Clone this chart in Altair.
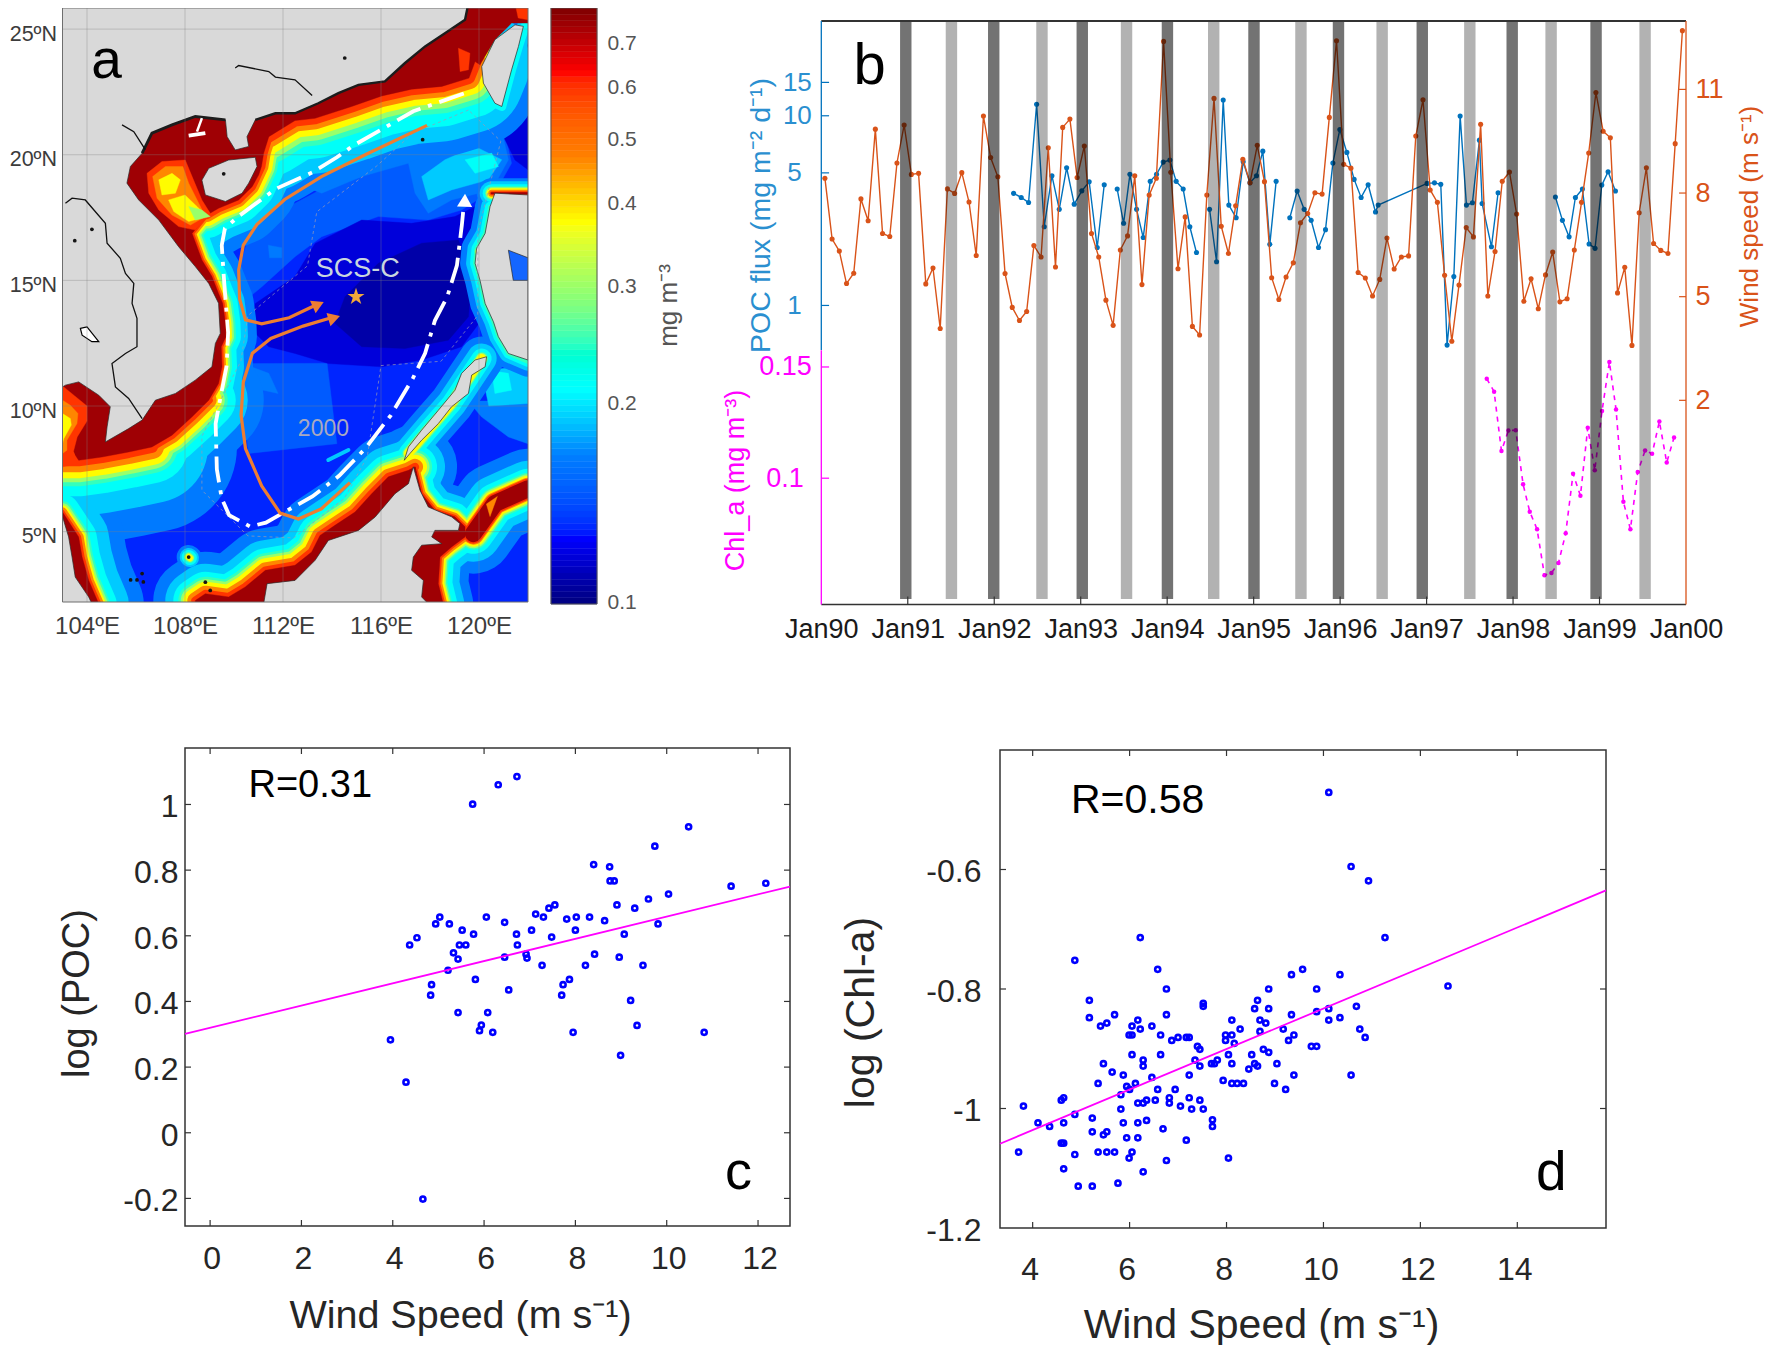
import altair as alt
import pandas as pd
import numpy as np

W, H = 1756, 1337
FONT = "Liberation Sans"

# ---------- panel a: regions as (lon, lat)
LEVEL = dict(a=.108, b=.118, c=.13, d=.148, e=.165, f=.19, g=.215, h=.25, i=.30, j=.38, k=.47, l=.60, m=.75)

sea_under = [
 ("d", [(112.49,18.07),(114.53,19.13),(116.57,20.2),(117.93,21.12),(120.11,21.79),(120.93,21.39),(121.33,19.66),(120.79,18.73),(119.29,17.8),(117.93,17.4),(115.89,17.54),(113.58,16.74),(112.49,15.94),(111.14,14.75),(110.33,14.09),(110.19,15.41),(110.6,16.74),(111.42,17.8)]),
 ("d", [(110.46,11.69),(113.8,11.7),(114.2,8.5),(110.6,8.11),(110.33,10.1)]),
 ("e", [(112.49,18.87),(114.26,19.66),(116.3,20.46),(117.93,21.39),(119.97,22.05),(120.79,21.52),(121.2,19.8),(120.52,18.6),(118.88,18.2),(117.93,17.67),(117.39,18.47),(117.12,19.66),(115.21,19.13),(113.58,18.47)]),
 ("f", [(117.66,19.13),(118.61,19.8),(119.84,20.33),(120.93,19.8),(120.38,19.0),(118.88,18.6),(117.93,18.2)]),
 ("g", [(119.43,19.8),(120.52,20.06),(120.79,19.53),(119.84,19.26)]),
 ("b", [(113.31,16.47),(115.21,17.4),(117.25,17.27),(119.02,17.54),(120.11,18.07),(120.25,17.0),(119.70,15.55),(119.84,14.22),(120.1,13.42),(119.29,12.36),(117.66,11.83),(116.03,11.56),(113.85,11.69),(112.49,12.09),(111.42,12.36),(110.6,13.15),(110.87,14.08),(112.49,15.15)]),
 ("a", [(115.89,15.68),(117.66,16.48),(119.16,16.61),(119.57,15.55),(119.63,14.28),(119.57,13.55),(118.75,12.62),(116.98,12.29),(115.21,12.36),(114.12,13.29),(114.53,14.35)]),
 ("b", [(121.2,21.79),(122,23.78),(122,19.4),(121.47,19.79),(120.93,20.86)]),
 ("e", [(110.6,11.6),(111.42,11.3),(111.8,10.5),(111.1,10.65),(110.75,11.0)]),
 ("e", [(111.4,16.4),(111.95,16.3),(111.95,15.9),(111.45,15.9)]),
 ("e", [(119.56,10.2),(122,10.2),(122,8.5),(121.2,8.77),(120.1,9.57)]),
 ("f", [(120.1,11.4),(122,11.6),(122,10.1),(120.4,10.0)]),
 ("g", [(120.52,11.4),(121.2,11.3),(121.33,10.63),(120.65,10.5)]),
]

stroke_levels = "efghijklm"
stroke_segments = [
 ("china",   [(119.84,23.65),(119.59,23.05),(118.48,22.72),(117.25,22.61),(116.03,22.34),(114.80,21.92),(113.31,21.45),(112.49,21.36),(111.42,20.72)], (140,110,80,54,44,34,22,12,0)),
 ("hainan",  [(111.42,20.72),(111.21,20.06),(111.12,19.53),(110.74,18.73),(110.19,18.2),(109.37,17.87),(108.90,17.6)], (90,64,46,32,27,22,14,8,0)),
 ("vietnam", [(108.90,17.6),(108.29,16.87),(108.69,15.81),(109.10,15.15),(109.37,14.48),(109.54,14.08),(109.65,13.29),(109.67,12.76),(109.48,12.36),(109.51,11.56),(109.37,10.9),(108.97,10.23)], (62,44,30,20,16,12,8,4,0)),
 ("indo2",   [(108.97,10.23),(108.29,9.57),(107.47,8.84),(106.65,8.37)], (110,78,54,38,32,26,16,8,0)),
 ("indo1",   [(106.65,8.37),(105.70,8.17),(104.61,7.97),(103.66,7.84),(102.98,7.84)], (170,112,72,52,44,36,24,12,0)),
 ("malay",   [(102.98,5.78),(103.66,4.79),(103.8,3.99),(104.07,3.06),(104.48,2.13)], (90,60,36,22,18,14,10,5,0)),
 ("borneoN", [(108.42,2.26),(108.83,2.53),(109.78,2.4),(110.46,2.8),(111.28,3.46),(112.49,3.66),(113.17,4.19),(113.51,4.85),(114.12,5.25),(114.94,5.78),(115.62,6.51),(116.3,7.18),(117.12,7.44),(117.39,7.58)], (84,60,44,34,29,24,16,8,0)),
 ("borneoE", [(117.39,7.58),(117.66,6.51),(118.2,5.85),(119.02,5.59),(119.43,5.19),(119.43,4.79),(118.88,4.39),(118.41,3.99),(118.34,2.93),(118.54,2.13)], (60,42,28,18,15,12,8,4,0)),
 ("sulu",    [(119.77,4.92),(120.65,6.12),(122,6.71)], (80,56,40,32,29,26,22,20,17)),
 ("palawan", [(120.11,11.89),(119.43,10.9),(118.88,10.1),(117.93,9.04),(117.12,8.11)], (44,30,20,13,11,9,0,0,0)),
 ("luzon",   [(120.45,17.93),(120.25,16.87),(119.9,16.27),(119.84,15.68),(120.04,15.01),(120.25,14.08),(120.59,13.35),(120.79,12.76),(121.2,12.09),(122,11.76)], (30,18,10,4,0,0,0,0,0)),
 ("luzonN",  [(120.52,18.47),(122,18.47)], (30,24,18,14,12,10,7,4,2)),
 ("linga",   [(120.04,16.14),(120.31,16.21)], (0,0,14,12,10,8,6,5,0)),
 ("taiwan",  [(120.18,22.85),(120.65,22.05),(120.93,21.92),(121.33,23.38),(121.61,24.31),(121.88,25.11)], (26,16,9,0,0,0,0,0,0)),
 ("natuna",  [(108.15,3.99),(108.2,3.95)], (24,18,14,10,8,6,0,0,0)),
 ("reef",    [(113.85,7.85),(114.67,8.25)], (0,4,0,0,0,0,0,0,0)),
]

sea_over = [
 ("m", [(119.57,26.04),(122.0,26.04),(122.0,25.24),(121.33,25.24),(120.65,24.58),(120.04,23.58),(119.84,23.71),(119.59,23.05),(118.48,22.72),(117.25,22.61),(116.03,22.34),(114.80,21.92),(113.31,21.45),(112.49,21.36),(111.42,20.72),(111.21,20.06),(111.12,19.53),(111.01,19.2),(110.74,18.73),(110.19,18.2),(109.37,17.87),(108.90,17.6),(108.29,16.87),(108.69,15.81),(109.10,15.15),(109.37,14.48),(109.54,14.08),(109.65,13.29),(109.67,12.76),(109.48,12.36),(109.51,11.56),(109.37,10.9),(108.97,10.23),(108.29,9.57),(107.47,8.84),(106.65,8.37),(105.70,8.17),(104.61,7.97),(103.66,7.84),(103.39,8.24),(103.52,8.77),(103.93,9.44),(103.93,9.97),(103.52,10.23),(103.05,10.50),(103,12),(103,26.04)]),
 ("l", [(106.45,19.26),(107.06,19.73),(108.01,19.79),(108.35,18.99),(108.69,18.2),(109.03,17.67),(108.42,17.0),(107.74,17.14),(106.93,17.8),(106.52,18.47)]),
 ("k", [(106.68,19.13),(107.2,19.53),(107.91,19.53),(108.15,18.87),(108.56,18.07),(108.83,17.54),(108.22,17.2),(107.47,17.6),(106.86,18.27)]),
 ("j", [(106.93,19.0),(107.47,19.26),(107.81,19.0),(107.61,18.47),(107.06,18.4)]),
 ("j", [(107.33,18.2),(108.0,18.4),(108.49,17.94),(108.9,17.54),(108.15,17.34),(107.54,17.74)]),
 ("i", [(108.15,17.94),(108.69,17.8),(109.03,17.54),(108.42,17.4)]),
 ("l", [(103,10.8),(103.5,10.4),(104.0,10.0),(104.0,9.4),(103.6,8.77),(103.45,8.2),(103.6,7.7),(103,7.58)]),
 ("k", [(103,10.23),(103.32,10.03),(103.63,9.7),(103.59,9.3),(103.18,8.64),(103.18,8.24),(103,8.11)]),
 ("j", [(103,9.7),(103.32,9.5),(103.36,9.24),(103.05,8.7),(103,8.5)]),
 ("m", [(103,5.78),(103.66,4.79),(103.8,3.99),(104.07,3.06),(104.48,2.13),(103,2.13)]),
 ("m", [(108.42,2.26),(108.83,2.53),(109.78,2.4),(110.46,2.8),(111.28,3.46),(112.49,3.66),(113.17,4.19),(113.51,4.85),(114.12,5.25),(114.94,5.78),(115.62,6.51),(116.3,7.18),(117.12,7.44),(117.39,7.58),(118,5),(112,2.13),(108.42,2.13)]),
 ("m", [(117.39,7.58),(117.66,6.51),(118.2,5.85),(119.02,5.59),(119.43,5.19),(119.43,4.79),(118.88,4.39),(118.41,3.99),(118.34,2.93),(118.54,2.13),(117.0,2.13),(117.0,6)]),
 ("l", [(121.47,26.04),(122,26.04),(122,25.37),(121.6,25.44)]),
 ("l", [(119.16,24.24),(119.63,24.04),(119.57,23.38),(119.23,23.31)]),
 ("k", [(120.3,6.1),(120.75,6.4),(120.45,5.6)]),
]

land_polys = [
 [(119.57,26.04),(119.43,25.37),(118.61,24.84),(117.80,24.31),(116.98,23.65),(116.16,22.92),(115.08,22.78),(114.26,22.45),(113.44,22.05),(112.49,21.65),(111.69,21.65),(110.87,21.39),(110.53,20.72),(110.60,20.33),(110.05,20.19),(109.72,20.72),(109.65,21.39),(108.42,21.52),(107.47,21.19),(106.65,20.86),(106.25,20.06),(105.77,19.53),(105.63,18.87),(106.11,18.20),(106.93,17.40),(107.74,16.34),(108.42,15.55),(108.97,14.88),(109.37,14.09),(109.44,12.89),(109.24,12.49),(109.10,11.56),(108.42,11.03),(107.61,10.50),(106.79,10.23),(106.25,9.44),(105.70,9.10),(104.75,8.57),(104.82,9.17),(104.95,9.97),(104.48,10.43),(103.66,10.96),(103.12,10.83),(103,10.76),(103,26.04)],
 [(108.69,18.99),(108.97,19.46),(109.78,19.79),(110.87,19.90),(110.94,19.53),(110.60,18.87),(110.33,18.47),(109.65,18.14),(108.83,18.40)],
 [(121.47,25.17),(121.81,25.11),(121.61,24.31),(121.33,23.38),(120.93,21.92),(120.65,22.05),(120.18,22.85),(120.11,23.51),(120.65,24.58)],
 [(120.65,18.47),(122,18.40),(122,11.83),(121.2,12.09),(120.79,12.76),(120.59,13.35),(120.25,14.08),(120.04,15.01),(119.84,15.68),(119.9,16.27),(120.25,16.87),(120.45,17.93)],
 [(119.84,11.83),(120.31,11.96),(120.25,11.56),(119.7,11.23),(119.57,10.50),(118.88,9.97),(118.34,9.30),(117.66,8.64),(117.18,8.11),(116.95,7.84),(117.12,8.37),(117.66,9.04),(118.34,9.83),(119.02,10.63),(119.29,11.3)],
 [(112.49,3.06),(113.31,3.86),(113.85,4.65),(115.08,5.05),(115.76,5.58),(116.57,6.51),(117.12,6.91),(117.32,7.58),(117.59,6.65),(117.93,5.98),(118.88,5.59),(119.22,5.32),(119.16,5.05),(118.2,5.05),(118.07,4.79),(118.48,4.52),(117.66,4.46),(117.32,3.99),(117.25,3.46),(117.73,3.06),(117.66,2.4),(117.93,2.13),(111.21,2.13),(111.35,2.93)],
 [(103,5.6),(103.25,4.79),(103.39,3.99),(103.52,3.19),(104.07,2.4),(104.2,2.13),(103,2.13)],
]
luzon_bay = [(121.2,16.2),(122,15.9),(122,15.0),(121.4,15.0)]
lake_poly = [(103.73,13.09),(104.0,13.15),(104.48,12.56),(104.2,12.56),(103.8,12.82)]
speck_lon = [106.25,105.78,106.04,108.83,109.03,114.52,109.58,104.2,103.5,108.15,106.3,117.7]
speck_lat = [3.33,3.08,3.08,2.99,2.66,23.85,19.24,17.03,16.58,3.99,3.0,20.6]

white_lon = [119.38,117.32,114.88,114.2,113.2,111.7,110.2,109.63,109.5,109.6,109.76,109.7,109.44,109.25,109.3,109.5,109.8,110.66,111.3,113.2,114.3,115.35,116.4,117.3,117.8,118.2,118.7,119.1,119.3,119.4]
white_lat = [22.44,21.73,20.37,19.9,19.3,18.64,17.56,17.07,16.4,14.92,12.93,11.6,10.3,9.3,7.48,6.32,5.66,5.2,5.36,6.4,7.23,8.3,9.63,11.1,12.1,13.4,14.34,15.6,17.2,18.2]
or1_lon = [117.88,115.44,113.57,112.07,110.94,110.38,110.19,110.23,110.47,111.13,112.25,113.3]
or1_lat = [21.17,20.04,19.13,18.22,17.23,16.4,15.41,14.26,13.43,13.27,13.51,14.0]
or2_lon = [114.73,113.57,112.63,111.88,111.13,110.47,110.29,110.38,110.75,111.5,112.82,114.0]
or2_lat = [6.95,5.91,5.5,5.74,6.82,8.3,9.63,10.95,12.1,12.69,13.18,13.52]
border1_lon = [103.12,103.39,103.93,104.75,104.82,105.36,105.57,105.91,105.84,106.04,106.04,105.57,105.02,105.16,105.7,106.25]
border1_lat = [18.07,18.27,18.2,17.27,16.48,15.88,15.28,14.88,14.08,13.49,12.36,12.09,11.69,10.76,10.3,9.5]
tonkin_lon = [105.43,105.91,106.38]; tonkin_lat = [21.19,20.92,20.2]
river_lon = [110.05,110.19,111.42,111.69,112.49,113.19]; river_lat = [23.45,23.55,23.31,23.09,22.98,22.36]
fringe1_lon = [119.57,119.43,118.61,117.80,116.98,116.16,115.08,114.26,113.44,112.49,111.69,110.87]
fringe1_lat = [26.04,25.37,24.84,24.31,23.65,22.92,22.78,22.45,22.05,21.65,21.65,21.39]
fringe2_lon = [109.65,108.42,107.47,106.65,106.25]; fringe2_lat = [21.39,21.52,21.19,20.86,20.06]
streak1_lon = [108.15,108.83]; streak1_lat = [20.76,20.86]
streak2_lon = [108.69,108.49]; streak2_lat = [21.46,20.92]
iso_lon = [119.57,117.32,115.82,113.38,113.0,110.57,110.28,108.69,108.69,110.57,112.44,114.5,115.44,116.0,118.45,119.95,119.95,120.89,119.57]
iso_lat = [21.78,20.87,19.55,17.73,15.58,13.6,11.78,8.8,6.65,4.83,4.75,6.32,7.98,11.61,11.78,13.6,16.9,20.54,21.78]

chl_stops = [0.1,0.1257,0.168,0.211,0.282,0.378,0.476,0.636,0.795]
jet_colors = ["#00007f","#0000ff","#007fff","#00ffff","#7fff7f","#ffff00","#ff7f00","#ff0000","#7f0000"]

# ---------- panel b
wind = [8.43,6.67,6.32,5.38,5.68,7.83,7.20,9.85,6.83,6.74,8.87,9.97,8.54,8.57,5.37,5.83,4.08,8.12,7.99,8.59,7.74,6.19,10.23,9.03,8.47,5.67,4.69,4.31,4.57,6.48,6.15,9.31,5.86,9.90,10.14,8.45,9.36,6.83,6.15,4.90,4.17,6.35,
 6.76,8.50,5.35,7.94,8.43,12.39,8.60,5.81,7.31,4.14,3.89,7.94,10.74,7.04,6.25,7.63,8.98,8.30,9.38,8.33,5.55,4.92,5.57,5.98,7.14,7.41,8.01,7.97,10.19,12.41,8.83,8.72,5.70,5.54,5.02,5.50,6.70,5.80,6.15,6.18,
 9.65,10.70,8.09,7.73,5.62,3.71,5.34,7.00,6.73,9.99,5.02,6.31,8.34,8.61,7.39,4.87,5.52,4.65,5.63,6.29,4.85,4.94,6.35,7.73,9.16,10.91,9.79,9.60,5.11,5.85,3.59,7.43,8.73,6.54,6.34,6.25,9.43,12.7]
wind_t = [1990+(i+0.5)/12 for i in range(len(wind))]

poc_t = [1992.224,1992.312,1992.397,1992.490,1992.578,1992.667,1992.752,1992.837,1992.925,1993.013,1993.098,1993.191,1993.272,
 1993.422,1993.496,1993.569,1993.646,1993.723,1993.804,1993.877,1993.954,1994.031,1994.104,1994.185,1994.262,1994.339,
 1994.490,1994.571,1994.648,1994.713,1994.798,1994.879,1994.956,1995.033,1995.106,1995.187,1995.260,
 1995.418,1995.503,1995.584,1995.665,1995.750,1995.831,1995.916,1995.997,1996.078,1996.162,1996.243,1996.324,1996.409,1996.440,1997.006,1997.091,1997.164,1997.237,1997.315,1997.388,1997.461,1997.530,1997.611,1997.642,1997.750,1997.827,
 1998.490,1998.571,1998.648,1998.721,1998.802,1998.879,1998.948,1999.026,1999.099,1999.184]
poc = [3.90,3.71,3.49,11.5,2.60,4.83,3.21,5.32,3.42,4.02,4.49,2.02,4.33,
 4.11,2.71,4.91,3.21,2.28,4.51,4.91,5.70,5.84,4.51,4.11,2.60,1.90,
 3.21,1.70,12.1,3.38,2.90,5.72,4.43,4.83,6.51,2.10,4.51,
 2.90,4.01,3.21,2.81,2.02,2.51,5.63,8.47,6.41,4.62,3.71,4.33,3.11,3.38,4.40,4.43,4.35,0.618,1.42,9.96,3.38,3.48,7.44,3.45,2.04,3.93,
 3.73,2.81,2.30,3.71,4.11,2.11,2.00,4.31,5.07,4.01]
poc_seg = [0]*13+[1]*13+[2]*11+[3]*26+[4]*10

chl_t = [1997.696,1997.781,1997.866,1997.946,1998.031,1998.116,1998.193,1998.278,1998.363,1998.444,1998.525,1998.609,1998.694,1998.779,1998.864,1998.945,1999.029,1999.114,1999.191,1999.276,1999.357,1999.442,1999.527,1999.608,1999.692,1999.777,1999.862]
chl = [.1437,.1371,.1104,.1190,.1191,.0978,.0885,.0830,.0702,.0708,.0734,.0818,.1016,.0938,.1202,.1029,.1278,.1528,.1285,.0918,.0830,.1023,.1106,.1093,.1230,.1059,.1160]

dark_t = [1990.977,1991.994,1993.018,1994.003,1995.004,1995.981,1996.95,1997.99,1998.96]
light_t = [1991.505,1992.552,1993.53,1994.538,1995.547,1996.486,1997.50,1998.44,1999.527]

# ---------- panel c
c_x = [3.95,4.29,4.66,4.37,4.53,4.94,5.03,4.85,4.83,5.24,5.21,5.33,5.46,5.43,5.43,5.52,5.60,5.77,5.81,5.75,5.90,5.94,6.05,6.08,6.19,6.31,6.45,6.45,6.54,6.71,6.73,6.72,6.92,6.94,7.04,7.13,7.27,7.30,7.42,7.55,7.48,7.70,7.73,7.87,7.81,8.02,8.00,7.95,8.22,8.31,8.42,8.40,8.64,8.75,8.76,8.85,8.91,8.96,8.99,9.07,9.21,9.30,9.35,9.48,9.60,9.74,9.81,10.04,10.48,10.82,11.41,12.17]
c_y = [.283,.154,-.202,.572,.594,.636,.657,.451,.419,.636,.495,.548,.572,.529,.366,.617,.572,.605,.467,1.001,.311,.328,.657,.366,.306,1.060,.641,.535,.435,.605,.572,1.085,.544,.532,.617,.666,.510,.657,.684,.694,.596,.419,.451,.467,.651,.657,.617,.306,.510,.657,.544,.817,.646,.810,.767,.767,.694,.535,.236,.605,.403,.684,.327,.510,.712,.873,.636,.727,.932,.306,.751,.760]
c_fit_x = [-0.55,12.7]; c_fit_y = [0.301,0.75]

# ---------- panel d
d_x = [3.71,3.81,4.11,4.35,4.59,4.64,4.64,4.59,4.64,4.64,4.87,4.87,4.94,4.87,5.17,5.17,5.23,5.23,5.23,5.35,5.35,5.40,5.46,5.46,5.53,5.53,5.53,5.64,5.69,5.69,5.76,5.82,5.82,5.87,5.87,5.94,5.94,5.99,5.99,6.00,6.05,6.05,6.05,6.05,6.12,6.17,6.17,6.17,6.17,6.22,6.22,6.28,6.28,6.28,6.28,6.35,6.35,6.46,6.46,6.53,6.58,6.58,6.64,6.64,6.69,6.76,6.76,6.76,6.82,6.82,6.87,6.94,7.00,7.05,7.17,7.17,7.23,7.23,7.23,7.28,7.35,7.40,7.45,7.45,7.45,7.52,7.52,7.52,7.69,7.71,7.71,7.75,7.81,7.93,7.98,7.98,8.04,8.04,8.11,8.11,8.11,8.11,8.16,8.22,8.28,8.35,8.46,8.52,8.58,8.58,8.64,8.64,8.69,8.69,8.76,8.81,8.87,8.87,8.87,8.99,9.04,9.17,9.22,9.28,9.34,9.34,9.39,9.39,9.57,9.75,9.86,9.86,9.86,10.11,10.11,10.11,10.34,10.34,10.57,10.57,10.68,10.75,10.86,10.93,11.27,12.57]
d_y = [-1.073,-.996,-1.024,-1.030,-.986,-.982,-1.024,-1.058,-1.058,-1.101,-1.010,-1.077,-1.130,-.752,-.819,-.848,-1.016,-1.039,-1.130,-.958,-1.073,-.862,-.925,-1.044,-1.039,-1.073,-.857,-.939,-.843,-1.073,-1.125,-.977,-1.001,-.944,-1.024,-.963,-1.049,-.877,-1.083,-.968,-.862,-.877,-.910,-1.073,-.958,-.852,-.991,-1.024,-1.049,-.867,-.714,-.919,-.929,-.991,-1.106,-.986,-1.020,-.862,-.948,-.986,-.767,-.968,-.877,-.910,-1.034,-.800,-.843,-1.087,-.982,-.991,-.886,-.968,-.881,-.996,-.881,-1.053,-.881,-.944,-.982,-1.001,-.919,-.896,-.901,-.929,-.986,-.824,-.829,-1.001,-.925,-1.019,-1.030,-.925,-.919,-.953,-.877,-.886,-.910,-1.083,-.852,-.877,-.925,-.958,-.891,-.958,-.867,-.958,-.934,-.910,-.833,-.925,-.819,-.929,-.852,-.871,-.901,-.857,-.800,-.833,-.906,-.958,-.925,-.867,-.968,-.886,-.776,-.843,-.877,-.944,-.767,-.896,-.800,-.838,-.896,-.471,-.833,-.852,-.776,-.848,-.595,-.944,-.829,-.867,-.881,-.619,-.714,-.795]
d_fit_x = [3.326,15.83]; d_fit_y = [-1.059,-0.635]

# ---------- helpers
def sc(dom, rng, **kw):
    return alt.Scale(domain=dom, range=rng, nice=False, zero=False, **kw)

class P:
    def __init__(s, xd, xr, yd, yr, xt="linear", yt="linear", clamp=False):
        s.xd, s.xr, s.yd, s.yr, s.xt, s.yt, s.clamp = xd, xr, yd, yr, xt, yt, clamp
    def x(s, f="x", axis=None):
        return alt.X(f, type="quantitative", scale=sc(s.xd, s.xr, type=s.xt, clamp=s.clamp), axis=axis)
    def y(s, f="y", axis=None):
        return alt.Y(f, type="quantitative", scale=sc(s.yd, s.yr, type=s.yt, clamp=s.clamp), axis=axis)

def df(**k):
    return pd.DataFrame(k)

def ax(**k):
    base = dict(grid=False, domain=False, ticks=False, labelFont=FONT, titleFont=FONT, titleFontWeight="normal",
                labelOverlap=False, labelFlush=False, labelBound=False, title=None)
    base.update(k)
    return alt.Axis(**base)

def frame(p, color="#333333", width=1.5):
    return alt.Chart(df(x=[p.xd[0]], x2=[p.xd[1]], y=[p.yd[0]], y2=[p.yd[1]])).mark_rect(
        fill="transparent", stroke=color, strokeWidth=width).encode(
        x=p.x(), x2="x2", y=p.y(), y2="y2")

def hrule(p, ys, x0, x1, color, width=1.2, opacity=1):
    return alt.Chart(df(y=ys, x=[x0]*len(ys), x2=[x1]*len(ys))).mark_rule(color=color, strokeWidth=width, opacity=opacity).encode(
        x=p.x(), x2="x2", y=p.y())

def vrule(p, xs, y0, y1, color, width=1.2, opacity=1):
    return alt.Chart(df(x=xs, y=[y0]*len(xs), y2=[y1]*len(xs))).mark_rule(color=color, strokeWidth=width, opacity=opacity).encode(
        x=p.x(), y=p.y(), y2="y2")

def text(p, s, x, y, size, color="black", align="center", angle=0):
    return alt.Chart(df(x=[x], y=[y], t=[s])).mark_text(
        font=FONT, fontSize=size, color=color, align=align, baseline="middle", angle=angle).encode(
        x=p.x(), y=p.y(), text="t:N")

def line(p, xs, ys, color, width, dash=None, opacity=1):
    kw = dict(color=color, strokeWidth=width, opacity=opacity)
    if dash:
        kw["strokeDash"] = dash
    return alt.Chart(df(x=xs, y=ys, o=list(range(len(xs))))).mark_line(**kw).encode(
        x=p.x(), y=p.y(), order="o:Q")

def boxticks(p, xv, yv, l=6, color="#333333"):
    dy = (p.yd[1]-p.yd[0])*l/abs(p.yr[0]-p.yr[1])
    dx = (p.xd[1]-p.xd[0])*l/abs(p.xr[1]-p.xr[0])
    return [vrule(p, xv, p.yd[0], p.yd[0]+dy, color), vrule(p, xv, p.yd[1], p.yd[1]-dy, color),
            hrule(p, yv, p.xd[0], p.xd[0]+dx, color), hrule(p, yv, p.xd[1], p.xd[1]-dx, color)]

layers = []

# ---------- panel a
LON0, LON1, LAT0, LAT1 = 103, 122, 2.2, 25.84
MAPX, MAPY = [54.5, 520], [594, 0]
MAP = P([LON0, LON1], MAPX, [LAT0, LAT1], MAPY)
chl_scale = alt.Scale(type="log", domain=chl_stops, range=jet_colors)
PROJ = dict(type="identity", scale=1, translate=[0, 0])

def to_plane(pts):
    return [[MAPX[0]+(lo-LON0)*(MAPX[1]-MAPX[0])/(LON1-LON0), (LAT1-la)*(MAPY[0]-MAPY[1])/(LAT1-LAT0)] for lo, la in pts]

def features(items):
    out = []
    for lev, pts in items:
        ring = to_plane(pts)
        ring = ring + [ring[0]]
        out.append({"type": "Feature", "properties": {"chl": LEVEL[lev] if lev else 0.1},
                    "geometry": {"type": "Polygon", "coordinates": [ring]}})
    return alt.InlineData(values={"type": "FeatureCollection", "features": out},
                          format=alt.DataFormat(type="json", property="features"))

def region_layer(items):
    return alt.Chart(features(items)).mark_geoshape(strokeWidth=0.4).encode(
        color=alt.Color("properties.chl:Q", scale=chl_scale, legend=None),
        stroke=alt.Stroke("properties.chl:Q", scale=chl_scale, legend=None)).project(**PROJ)

lon_ticks = [104, 108, 112, 116, 120]
lat_ticks = [5, 10, 15, 20, 25]
layers.append(alt.Chart(df(x=[LON0], x2=[LON1], y=[LAT0], y2=[LAT1], chl=[LEVEL["c"]])).mark_rect().encode(
    x=MAP.x(axis=ax(orient="bottom", offset=-(H-594), values=lon_ticks, labelExpr="datum.value+'ºE'",
                    labelFontSize=24, labelColor="#3c3c3c", labelPadding=12, zindex=1)),
    x2="x2",
    y=MAP.y(axis=ax(orient="left", offset=-54.5, values=lat_ticks, labelExpr="datum.value+'ºN'",
                    labelFontSize=21.5, labelColor="#3c3c3c", labelPadding=6, labelOffset=5, zindex=1)),
    y2="y2",
    color=alt.Color("chl:Q", scale=chl_scale, legend=None)))
layers.append(region_layer(sea_under))

# coastal colour bands, widest and weakest first, each level its own layer so that the order holds
for i, lev in enumerate(stroke_levels):
    rows = []
    gid = 0
    for name, pts, widths in stroke_segments:
        if widths[i] <= 0:
            continue
        gid += 1
        for o, (lo, la) in enumerate(pts):
            rows.append(dict(x=lo, y=la, o=o, g=gid, w=widths[i], chl=LEVEL[lev]))
    layers.append(alt.Chart(pd.DataFrame(rows)).mark_line(strokeCap="round", strokeJoin="round").encode(
        x=MAP.x(), y=MAP.y(), order="o:Q", detail="g:N",
        size=alt.Size("w:Q", scale=None, legend=None),
        color=alt.Color("chl:Q", scale=chl_scale, legend=None)))
layers.append(region_layer(sea_over))

# land
land_feats = features([(None, p) for p in land_polys])
layers.append(alt.Chart(land_feats).mark_geoshape(fill="#d9d9d9", stroke="#2a2a2a", strokeWidth=0.7).project(**PROJ))
layers.append(alt.Chart(features([("d", luzon_bay)])).mark_geoshape(fill="#1466ff", stroke="#2a2a2a", strokeWidth=0.7).project(**PROJ))
layers.append(alt.Chart(features([(None, lake_poly)])).mark_geoshape(fill="white", stroke="black", strokeWidth=1.2).project(**PROJ))
layers.append(line(MAP, fringe1_lon, fringe1_lat, "#1c1c1c", 2.4))
layers.append(line(MAP, fringe2_lon, fringe2_lat, "#1c1c1c", 2.8))
layers.append(line(MAP, streak1_lon, streak1_lat, "white", 4))
layers.append(line(MAP, streak2_lon, streak2_lat, "white", 2.5))
layers.append(alt.Chart(df(x=speck_lon, y=speck_lat)).mark_point(filled=True, color="#151515", opacity=1, size=14).encode(x=MAP.x(), y=MAP.y()))

layers.append(vrule(MAP, lon_ticks, LAT0, LAT1, "#808080", 0.9, 0.4))
layers.append(hrule(MAP, lat_ticks, LON0, LON1, "#808080", 0.9, 0.4))
layers.append(line(MAP, iso_lon, iso_lat, "#9a9ab4", 1.0, dash=[3, 3], opacity=0.7))
for lo, la in [(border1_lon, border1_lat), (tonkin_lon, tonkin_lat), (river_lon, river_lat)]:
    layers.append(line(MAP, lo, la, "#111111", 1.3))
layers.append(line(MAP, white_lon, white_lat, "white", 3.8, dash=[26, 8, 4, 8]))
layers.append(line(MAP, or1_lon, or1_lat, "#ED7D31", 3.2))
layers.append(line(MAP, or2_lon, or2_lat, "#ED7D31", 3.2))
for x_, y_, ang, col, sz in [(113.44, 14.04, 66, "#ED7D31", 190), (114.09, 13.51, 73, "#ED7D31", 190), (119.42, 18.19, 2, "white", 230)]:
    layers.append(alt.Chart(df(x=[x_], y=[y_])).mark_point(shape="triangle-up", filled=True, color=col, opacity=1, size=sz, angle=ang).encode(
        x=MAP.x(), y=MAP.y()))
star = "M0,-1L0.224,-0.309L0.951,-0.309L0.363,0.118L0.588,0.809L0,0.382L-0.588,0.809L-0.363,0.118L-0.951,-0.309L-0.224,-0.309Z"
layers.append(alt.Chart(df(x=[114.98], y=[14.35])).mark_point(shape=star, filled=True, color="#F2A93B", opacity=1, size=320).encode(
    x=MAP.x(), y=MAP.y()))
layers.append(text(MAP, "SCS-C", 115.05, 15.44, 27, "#c9d6de"))
layers.append(text(MAP, "2000", 113.65, 9.1, 23, "#a9a9c0"))
layers.append(text(MAP, "a", 104.8, 23.75, 55))

# masks keep the wide coastal bands inside the map frame
for x0, x1, y0, y1 in [(0, 54.5, 0, 700), (520, 598, 0, 700), (0, 598, 594, 700)]:
    layers.append(alt.Chart(df(k=[1])).mark_rect(color="white").encode(
        x=alt.value(x0), x2=alt.value(x1), y=alt.value(y0), y2=alt.value(y1)))
layers.append(frame(MAP, "#6e6e6e", 1))

# colour bar
cb_edges = list(np.geomspace(0.1, 0.795, 97))
CB = P([0, 1], [543, 589], [0.1, 0.795], [596, 0], yt="log")
cb_df = pd.DataFrame(dict(x=[0]*96, x2=[1]*96, y=cb_edges[:-1], y2=cb_edges[1:],
                          chl=[(a*b)**0.5 for a, b in zip(cb_edges[:-1], cb_edges[1:])]))
layers.append(alt.Chart(cb_df).mark_rect(strokeWidth=0.5).encode(
    x=CB.x(), x2="x2",
    y=CB.y(axis=ax(orient="right", offset=-(W-589), values=[.1, .2, .3, .4, .5, .6, .7], labelExpr="''+datum.value",
                   labelFontSize=21, labelColor="#555555", labelPadding=10, labelOffset=-1.5, zindex=1,
                   title="mg m⁻³", titleFontSize=26, titleColor="#555555", titleX=71, titleY=297, titleAngle=270, titleBaseline="middle")),
    y2="y2",
    color=alt.Color("chl:Q", scale=chl_scale, legend=None),
    stroke=alt.Stroke("chl:Q", scale=chl_scale, legend=None)))
layers.append(frame(CB, "#555555", 1))

# ---------- panel b
BX = [813.3, 1678]
BY = [596.5, 13]
POC_B = P([1990, 2000], BX, [0.0265, 31.6], BY, yt="log")
CHL_B = P([1990, 2000], BX, [0.0631, 0.5295], BY, yt="log")
WND_B = P([1990, 2000], BX, [-3.91, 12.98], BY)
BLUE, ORANGE, MAG = "#0072BD", "#D95319", "#FF00FF"

poc_df = df(x=poc_t, y=poc, seg=poc_seg)
layers.append(alt.Chart(poc_df).mark_line(color=BLUE, strokeWidth=1.4).encode(
    x=POC_B.x(axis=ax(orient="bottom", offset=-(H-596.5), values=list(range(1990, 2001)),
                      labelExpr="'Jan'+substring(toString(datum.value),2,4)", labelFontSize=27, labelColor="#1a1a1a", labelPadding=12)),
    y=POC_B.y(axis=ax(orient="left", offset=-813.3, values=[10, 15], labelExpr="''+datum.value",
                      labelFontSize=26, labelColor="#2a8fd0", labelPadding=10,
                      title="POC flux (mg m⁻² d⁻¹)", titleFontSize=28.5, titleColor="#2a8fd0", titleX=-61, titleY=207, titleBaseline="middle")),
    detail="seg:N"))
layers.append(alt.Chart(poc_df).mark_point(filled=True, color=BLUE, opacity=1, size=26).encode(
    x=POC_B.x(),
    y=POC_B.y(axis=ax(orient="left", offset=-813.3, values=[1, 5], labelExpr="''+datum.value",
                      labelFontSize=26, labelColor="#2a8fd0", labelPadding=20))))
chl_df = df(x=chl_t, y=chl)
layers.append(alt.Chart(chl_df).mark_line(color=MAG, strokeWidth=1.6, strokeDash=[5, 5]).encode(
    x=CHL_B.x(),
    y=CHL_B.y(axis=ax(orient="left", offset=-813.3, values=[0.15], labelExpr="''+datum.value",
                      labelFontSize=27, labelColor=MAG, labelPadding=10,
                      title="Chl_a (mg m⁻³)", titleFontSize=27, titleColor=MAG, titleX=-86, titleY=472, titleBaseline="middle"))))
layers.append(alt.Chart(chl_df).mark_point(filled=True, color=MAG, opacity=1, size=20).encode(
    x=CHL_B.x(),
    y=CHL_B.y(axis=ax(orient="left", offset=-813.3, values=[0.1], labelExpr="''+datum.value",
                      labelFontSize=27, labelColor=MAG, labelPadding=18))))
wind_df = df(x=wind_t, y=wind)
layers.append(alt.Chart(wind_df).mark_line(color=ORANGE, strokeWidth=1.4).encode(
    x=WND_B.x(),
    y=WND_B.y(axis=ax(orient="right", offset=-(W-1678), values=[2, 5, 8, 11], labelFontSize=27, labelColor=ORANGE, labelPadding=9,
                      title="Wind speed (m s⁻¹)", titleFontSize=26, titleColor=ORANGE, titleX=63, titleY=208, titleAngle=270, titleBaseline="middle"))))
layers.append(alt.Chart(wind_df).mark_point(filled=True, color=ORANGE, opacity=1, size=26).encode(x=WND_B.x(), y=WND_B.y()))

for ts, op in [(dark_t, 0.55), (light_t, 0.30)]:
    layers.append(alt.Chart(df(x=[t-0.066 for t in ts], x2=[t+0.066 for t in ts], y=[-3.75]*len(ts), y2=[12.98]*len(ts))).mark_rect(
        color="black", opacity=op).encode(x=WND_B.x(), x2="x2", y=WND_B.y(), y2="y2"))

layers.append(hrule(WND_B, [12.98], 1990, 2000, "#333333", 2))
layers.append(hrule(WND_B, [-3.91], 1990, 2000, "#333333", 1.5))
layers.append(vrule(WND_B, [2000], -3.91, 12.98, ORANGE, 1.3))
layers.append(vrule(POC_B, [1990], 0.5815, 31.6, BLUE, 1.3))
layers.append(vrule(CHL_B, [1990], 0.0631, 0.1594, MAG, 1.3))
layers.append(hrule(POC_B, [1, 5, 10, 15], 1990, 1990.09, BLUE, 1.2))
layers.append(hrule(CHL_B, [0.1, 0.15], 1990, 1990.09, MAG, 1.2))
layers.append(hrule(WND_B, [2, 5, 8, 11], 2000, 1999.92, ORANGE, 1.2))
layers.append(vrule(WND_B, list(range(1991, 2000)), -3.91, -3.68, "#333333", 1.2))
layers.append(text(WND_B, "b", 1990.56, 11.65, 58))

# ---------- panel c
PC = P([-0.55, 12.7], [177, 782], [-0.284, 1.172], [1218, 740])
layers.append(frame(PC))
layers.append(alt.Chart(df(x=c_x, y=c_y)).mark_point(filled=False, color="#0000FF", strokeWidth=2.6, opacity=1, size=26).encode(
    x=PC.x(axis=ax(orient="bottom", offset=-(H-1218), values=list(range(0, 13, 2)), labelFontSize=32, labelColor="#262626", labelPadding=17, labelOffset=1.5,
                   title="Wind Speed (m s⁻¹)", titleFontSize=39.5, titleColor="#262626", titleX=452, titleY=89, titleBaseline="middle")),
    y=PC.y(axis=ax(orient="left", offset=-177, values=[-0.2, 0, 0.2, 0.4, 0.6, 0.8, 1], labelExpr="''+datum.value",
                   labelFontSize=32, labelColor="#262626", labelPadding=7, labelOffset=2.5,
                   title="log (POC)", titleFontSize=38, titleColor="#262626", titleX=-108, titleY=985, titleBaseline="middle"))))
layers.append(line(PC, c_fit_x, c_fit_y, MAG, 1.8))
layers += boxticks(PC, list(range(0, 13, 2)), [-0.2, 0, 0.2, 0.4, 0.6, 0.8, 1])
layers.append(text(PC, "R=0.31", 0.84, 1.055, 38, align="left"))
layers.append(text(PC, "c", 11.57, -0.123, 54))

# ---------- panel d
PD = P([3.326, 15.83], [992, 1598], [-1.2, -0.40], [1220, 742])
layers.append(frame(PD))
layers.append(alt.Chart(df(x=d_x, y=d_y)).mark_point(filled=False, color="#0000FF", strokeWidth=2.6, opacity=1, size=26).encode(
    x=PD.x(axis=ax(orient="bottom", offset=-(H-1220), values=list(range(4, 15, 2)), labelFontSize=32, labelColor="#262626", labelPadding=26, labelOffset=-3,
                   title="Wind Speed (m s⁻¹)", titleFontSize=41, titleColor="#262626", titleX=1253, titleY=97, titleBaseline="middle")),
    y=PD.y(axis=ax(orient="left", offset=-992, values=[-1.2, -1, -0.8, -0.6], labelExpr="''+datum.value",
                   labelFontSize=32, labelColor="#262626", labelPadding=19, labelOffset=2,
                   title="log (Chl-a)", titleFontSize=41, titleColor="#262626", titleX=-139, titleY=1004, titleBaseline="middle"))))
layers.append(line(PD, d_fit_x, d_fit_y, MAG, 1.8))
layers += boxticks(PD, list(range(4, 15, 2)), [-1, -0.8, -0.6])
layers.append(text(PD, "R=0.58", 4.79, -0.485, 41, align="left"))
layers.append(text(PD, "d", 14.7, -1.108, 55))

chart = alt.layer(*layers).resolve_scale(x="independent", y="independent").properties(
    width=W, height=H, autosize=alt.AutoSizeParams(type="none"), padding=0, background="white"
).configure_view(stroke=None)

chart.save("out.html", embed_options={"renderer": "svg", "actions": False})
